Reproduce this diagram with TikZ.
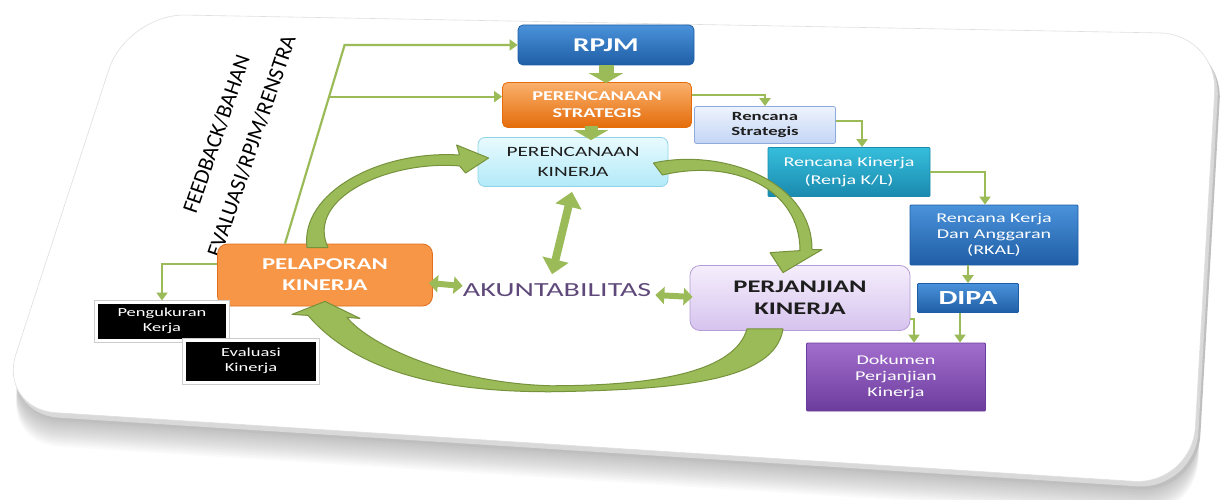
\documentclass[tikz,border=0pt]{standalone}
\usepackage{fontspec}
\setmainfont{Carlito}[FakeStretch=1.5]
\newfontfamily\plainfont{Carlito}
\usetikzlibrary{arrows.meta,calc}
\definecolor{lg}{HTML}{9BBB59}
\definecolor{dg}{HTML}{76923C}
\definecolor{akuc}{HTML}{5F497A}
\definecolor{bl1}{HTML}{4A92DA}
\definecolor{bl2}{HTML}{1F5EA6}
\definecolor{or1}{HTML}{FAB06C}
\definecolor{or2}{HTML}{E46C0A}
\definecolor{rs1}{HTML}{EEF3FD}
\definecolor{rs2}{HTML}{C3D5F5}
\definecolor{rsd}{HTML}{8EA9DB}
\definecolor{pk1}{HTML}{E8FAFE}
\definecolor{pk2}{HTML}{B2EAF8}
\definecolor{pkd}{HTML}{8FD3E8}
\definecolor{rk1}{HTML}{36BEDC}
\definecolor{rk2}{HTML}{1A8AAE}
\definecolor{pj1}{HTML}{F5EEFC}
\definecolor{pj2}{HTML}{D6C3EE}
\definecolor{pjd}{HTML}{B49CD6}
\definecolor{dk1}{HTML}{A26ECE}
\definecolor{dk2}{HTML}{6C3C9C}
\definecolor{pel}{HTML}{F79646}
\definecolor{peld}{HTML}{E07020}
\definecolor{txd}{HTML}{1E1E1E}
\begin{document}
\begin{tikzpicture}[x=1pt,y=-1pt,
  box/.style={rounded corners=5pt, align=center, inner sep=2pt, line width=0.8pt},
  blkbox/.style={fill=black, draw=white, line width=3pt, align=center, text=white,
     font=\fontsize{12.3}{15}\selectfont, preaction={draw=gray!40, line width=5pt}},
  conn/.style={draw=lg, line width=2.2pt, -{Triangle[length=8pt,width=11pt]}},
  blk/.style={draw=lg, line width=15pt, -{Triangle[length=10pt,width=34pt]}},
  dblv/.style={draw=lg, line width=8pt, {Triangle[length=15pt,width=26pt]}-{Triangle[length=15pt,width=26pt]}},
  dblh/.style={draw=lg, line width=6pt, {Triangle[length=9pt,width=17pt]}-{Triangle[length=9pt,width=17pt]}},
  bigarr/.style={fill=lg, draw=dg, line width=1pt, line join=round},
  card/.style={rounded corners=58pt}]
\useasboundingbox (0,0) rectangle (1225,500);
\clip (0,0) rectangle (1225,500);
% card shadow
\foreach \s in {34,32,...,10}{
  \fill[black, opacity=0.018, card, shift={(3,\s)}] (127,14) -- (1218,34) -- (1192,485) -- (-2,409) -- cycle;}
\fill[gray!50, card, shift={(5,8)}] (127,14) -- (1218,34) -- (1192,485) -- (-2,409) -- cycle;
\fill[gray!30, card, shift={(3,5)}] (127,14) -- (1218,34) -- (1192,485) -- (-2,409) -- cycle;
\fill[white, card] (127,14) -- (1218,34) -- (1192,485) -- (-2,409) -- cycle;
\draw[gray!25, line width=0.6pt, card] (127,14) -- (1218,34) -- (1192,485) -- (-2,409) -- cycle;

% title
\node[rotate=71, font=\plainfont\fontsize{22}{37}\selectfont, align=center, text=black] (fb) at (234,140) {FEEDBACK/BAHAN\\EVALUASI/RPJM/RENSTRA};

% boxes
\node[box, minimum width=176pt, minimum height=40pt, top color=bl1, bottom color=bl2, draw=bl2, text=white, font=\bfseries\fontsize{19.5}{22}\selectfont] (rpjm) at (606,45) {RPJM};
\node[box, minimum width=189pt, minimum height=45pt, top color=or1, bottom color=or2, draw=or2, text=white, font=\bfseries\fontsize{13.5}{17}\selectfont] (ps) at (597,105) {PERENCANAAN\\STRATEGIS};
\node[box, rounded corners=2pt, minimum width=141pt, minimum height=37pt, top color=rs1, bottom color=rs2, draw=rsd, text=txd, font=\bfseries\fontsize{12.5}{15}\selectfont] (rs) at (765,125) {Rencana\\Strategis};
\node[box, rounded corners=7pt, minimum width=190pt, minimum height=49pt, top color=pk1, bottom color=pk2, draw=pkd, text=txd, font=\fontsize{14.2}{20}\selectfont] (pk) at (573,162) {PERENCANAAN\\KINERJA};
\node[box, rounded corners=1pt, minimum width=162pt, minimum height=49pt, top color=rk1, bottom color=rk2, draw=rk2, text=white, font=\fontsize{13.4}{18}\selectfont] (rk) at (849,172) {Rencana Kinerja\\(Renja K/L)};
\node[box, rounded corners=1pt, minimum width=168pt, minimum height=60pt, top color=bl1, bottom color=bl2, draw=bl2, text=white, font=\fontsize{13.4}{16}\selectfont] (rkal) at (994,235) {Rencana Kerja\\Dan Anggaran\\(RKAL)};
\node[box, rounded corners=1pt, minimum width=101pt, minimum height=29pt, top color=bl1, bottom color=bl2, draw=bl2, text=white, font=\bfseries\fontsize{20}{22}\selectfont] (dipa) at (968,298) {DIPA};
\node[box, rounded corners=10pt, minimum width=220pt, minimum height=65pt, top color=pj1, bottom color=pj2, draw=pjd, text=txd, font=\bfseries\fontsize{17.7}{22}\selectfont] (pj) at (800,298) {PERJANJIAN\\KINERJA};
\node[box, rounded corners=1pt, minimum width=179pt, minimum height=68pt, top color=dk1, bottom color=dk2, draw=dk2, text=white, font=\fontsize{13.4}{16}\selectfont] (dok) at (896,377) {Dokumen\\Perjanjian\\Kinerja};
\node[box, rounded corners=10pt, minimum width=215pt, minimum height=62pt, fill=pel, draw=peld, text=white, font=\bfseries\fontsize{16.5}{21}\selectfont] (pel) at (325,275) {PELAPORAN\\KINERJA};
\node[blkbox, minimum width=131pt, minimum height=38pt] (peng) at (162,321) {Pengukuran\\Kerja};
\node[blkbox, minimum width=133pt, minimum height=42pt] (eval) at (251,361) {Evaluasi\\Kinerja};
\node[text=akuc, font=\fontsize{20}{22}\selectfont, inner sep=1pt] (aku) at (557,290) {AKUNTABILITAS};

% thin connectors
\coordinate (fbs) at ($(pel.north)+(-40,0)$);
\coordinate (fbtop) at ($(rpjm.west)+(-173,0)$);
\coordinate (fbmid) at ($(fbs)!0.74!(fbtop)$);
\draw[conn] (fbs) -- (fbtop) -- (rpjm.west);
\draw[conn] (fbmid) -- (fbmid -| ps.west);
\draw[conn] ($(pel.west)+(0,-11)$) -| (peng.north);
\draw[conn] ($(ps.east)+(0,-10)$) -| (rs.north);
\draw[conn] ($(rs.east)+(0,-4)$) -| ($(rk.north)+(13,0)$);
\draw[conn] (rk.east) -| ($(rkal.north)+(-9,0)$);
\draw[conn] (rkal.south -| dipa.north) -- (dipa.north);
\coordinate (dd) at ($(dipa.south)+(-8,0)$);
\draw[conn] (dd) -- (dd |- dok.north);
\draw[conn] ($(pj.south east)+(0,-12)$) -| ($(dok.north)+(18,0)$);

% straight block arrows
\draw[blk] (rpjm.south) -- ($(rpjm.south |- ps.north)+(0,1)$);
\draw[blk, line width=13pt] ($(ps.south)+(-6,-2)$) -- ($(ps.south |- pk.north)+(-6,3)$);
\draw[dblv] ($(pk.south)+(-1,5)$) -- ($(aku.north)+(-5,-8)$);
\draw[dblh] ($(pel.east)+(-4,8)$) -- ($(aku.west)+(1,-4)$);
\draw[dblh] ($(aku.east)+(3,5)$) -- ($(pj.west)+(3,-1)$);

% curved arrow: pelaporan -> perencanaan kinerja
\coordinate (a1o) at ($(pel.north)+(-18,4)$);
\coordinate (a1i) at ($(pel.north)+(3,4)$);
\coordinate (a1eo) at ($(pk.west)+(-18,-7)$);
\coordinate (a1ht) at ($(pk.west)+(-21,-17)$);
\coordinate (a1tip) at ($(pk.west)+(11,-4)$);
\coordinate (a1hb) at ($(pk.west)+(-12,11)$);
\coordinate (a1ei) at ($(pk.west)+(-18,4)$);
\filldraw[bigarr] (a1o) .. controls +(-7,-55) and +(-80,-5) .. (a1eo) -- (a1ht) -- (a1tip) -- (a1hb) -- (a1ei)
   .. controls +(-70,-6) and +(-23,-50) .. (a1i) -- cycle;

% curved arrow: perencanaan kinerja -> perjanjian kinerja
\coordinate (a2o) at ($(pk.east)+(-15,1)$);
\coordinate (a2i) at ($(pk.east)+(-6,13)$);
\coordinate (a2eo) at ($(pj.north)+(12,-15.5)$);
\coordinate (a2hr) at ($(pj.north)+(22,-15.5)$);
\coordinate (a2tip) at ($(pj.north)+(-17,7.5)$);
\coordinate (a2hl) at ($(pj.north)+(-30,-12.5)$);
\coordinate (a2ei) at ($(pj.north)+(0,-14.5)$);
\filldraw[bigarr] (a2o) .. controls +(67,-15) and +(0,-70) .. (a2eo) -- (a2hr) -- (a2tip) -- (a2hl) -- (a2ei)
   .. controls +(0,-61) and +(73,-17) .. (a2i) -- cycle;

% curved arrow: perjanjian kinerja -> pelaporan kinerja
\coordinate (a3A) at ($(pj.south)+(-53,-2)$);
\coordinate (a3B) at ($(pj.south)+(-17,-2)$);
\coordinate (a3mo) at ($(aku.south)+(-7,94)$);
\coordinate (a3mi) at ($(aku.south)+(-7,88)$);
\coordinate (a3tip) at ($(pel.south)+(0,-5)$);
\coordinate (a3hl) at ($(pel.south)+(-33,8)$);
\coordinate (a3hr) at ($(pel.south)+(35,12)$);
\coordinate (a3sl) at ($(pel.south)+(-17,9)$);
\coordinate (a3sr) at ($(pel.south)+(22,11)$);
\filldraw[bigarr] (a3sl) .. controls +(52,60) and +(-100,0) .. (a3mo) .. controls +(130,-2) and +(-8,52) .. (a3B)
   -- (a3A) .. controls +(-12,42) and +(110,0) .. (a3mi) .. controls +(-100,-3) and +(23,28) .. (a3sr)
   -- (a3hr) -- (a3tip) -- (a3hl) -- cycle;
\end{tikzpicture}
\end{document}
